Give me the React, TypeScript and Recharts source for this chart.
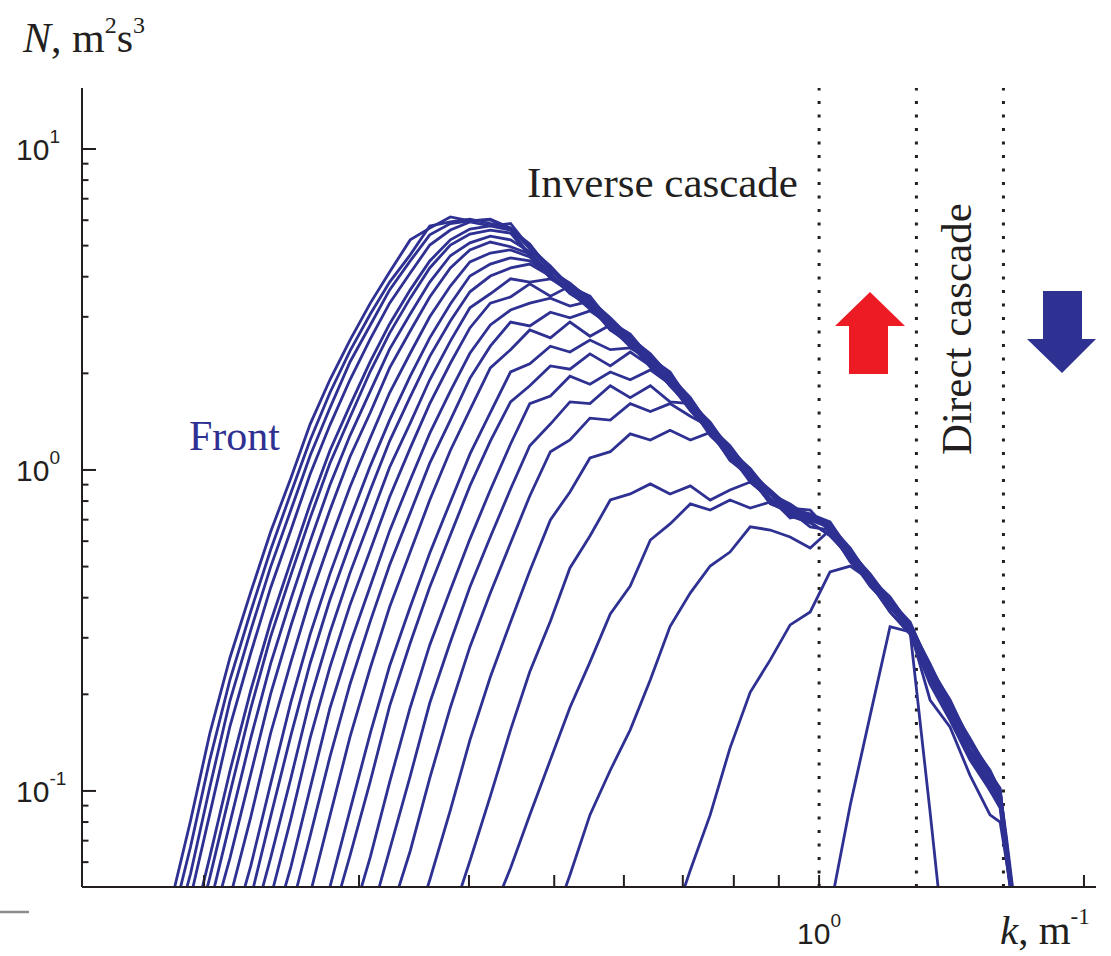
import { LineChart, Line, XAxis, YAxis, ReferenceLine } from 'recharts';

const INK = '#231f20';
const BLUE = '#2e3192';
const RED = '#ed1c24';
const SANS = 'Liberation Sans, Arial, sans-serif';
const SERIF = 'Liberation Serif, Times New Roman, serif';

// wavenumber grid k, m^-1
const K = [
  0.183, 0.193, 0.203, 0.214, 0.226, 0.238, 0.251, 0.264, 0.278, 0.293,
  0.309, 0.325, 0.343, 0.361, 0.381, 0.401, 0.423, 0.446, 0.469, 0.495,
  0.521, 0.549, 0.579, 0.61, 0.643, 0.677, 0.714, 0.752, 0.792, 0.835,
  0.88, 0.927, 0.977, 1.029, 1.085, 1.143, 1.204, 1.269, 1.337, 1.409,
  1.484, 1.564, 1.606, 1.632, 1.666,
];

// wave action spectra N(k), one per time snapshot
const S01 = [0.0438, 0.0806, 0.151, 0.26, 0.417, 0.641, 0.944, 1.39, 1.91, 2.54, 3.31, 4.14, 5.21, 5.67, 6.14, 5.97, 6.04, 5.67, 4.99, 4.26, 3.77, 3.43, 2.93, 2.61, 2.26, 1.99, 1.65, 1.39, 1.17, 1.0, 0.854, 0.772, 0.719, 0.679, 0.563, 0.468, 0.396, 0.332, 0.245, 0.189, 0.144, 0.115, 0.1005, 0.0704, 0.0442];
const S02 = [0.0371, 0.0669, 0.125, 0.222, 0.363, 0.563, 0.848, 1.24, 1.74, 2.35, 3.06, 3.85, 4.68, 5.76, 5.93, 6.04, 5.86, 5.67, 4.89, 4.2, 3.69, 3.36, 2.89, 2.56, 2.23, 1.95, 1.63, 1.37, 1.15, 0.986, 0.842, 0.756, 0.704, 0.665, 0.551, 0.461, 0.388, 0.327, 0.24, 0.185, 0.14, 0.111, 0.0977, 0.0674, 0.0426];
const S03 = [0.032, 0.0551, 0.1027, 0.191, 0.317, 0.498, 0.75, 1.11, 1.56, 2.17, 2.83, 3.64, 4.48, 5.4, 5.86, 5.97, 6.01, 5.63, 5.06, 4.17, 3.82, 3.39, 2.98, 2.58, 2.3, 1.96, 1.68, 1.36, 1.19, 0.979, 0.866, 0.761, 0.729, 0.689, 0.555, 0.4745, 0.391, 0.336, 0.242, 0.192, 0.142, 0.116, 0.0991, 0.0724, 0.0457];
const S04 = [0.0464, 0.0848, 0.159, 0.269, 0.429, 0.65, 0.972, 1.38, 1.91, 2.56, 3.31, 4.11, 5.02, 5.59, 5.93, 5.76, 5.86, 4.92, 4.32, 3.72, 3.48, 2.89, 2.65, 2.23, 2.02, 1.62, 1.41, 1.15, 1.01, 0.842, 0.784, 0.709, 0.67, 0.571, 0.461, 0.402, 0.327, 0.249, 0.1837, 0.146, 0.113, 0.102, 0.0685, 0.0442];
const S05 = [0.0353, 0.0623, 0.1154, 0.206, 0.336, 0.52, 0.784, 1.15, 1.59, 2.18, 2.85, 3.64, 4.48, 5.21, 5.63, 5.76, 5.59, 4.68, 3.96, 3.59, 3.17, 2.79, 2.42, 2.17, 1.83, 1.57, 1.295, 1.105, 0.931, 0.806, 0.719, 0.684, 0.627, 0.531, 0.435, 0.374, 0.315, 0.225, 0.176, 0.132, 0.105, 0.0938, 0.0646, 0.0421];
const S06 = [0.0316, 0.0537, 0.0984, 0.181, 0.302, 0.471, 0.709, 1.05, 1.46, 2.03, 2.67, 3.43, 4.26, 5.02, 5.43, 5.59, 5.47, 4.65, 4.08, 3.54, 3.24, 2.73, 2.47, 2.09, 1.85, 1.53, 1.31, 1.08, 0.944, 0.789, 0.745, 0.665, 0.65, 0.52, 0.442, 0.361, 0.308, 0.23, 0.171, 0.128, 0.1035, 0.0925, 0.0629, 0.0411];
const S07 = [0.0438, 0.0795, 0.1463, 0.249, 0.396, 0.6, 0.898, 1.28, 1.76, 2.38, 3.06, 3.85, 4.65, 5.1, 5.35, 5.21, 4.78, 4.08, 3.59, 3.24, 2.81, 2.58, 2.14, 1.95, 1.56, 1.37, 1.105, 0.986, 0.806, 0.761, 0.75, 0.641, 0.551, 0.442, 0.388, 0.322, 0.232, 0.186, 0.134, 0.112, 0.0956, 0.0674, 0.0432];
const S08 = [0.0366, 0.0618, 0.113, 0.2003, 0.327, 0.502, 0.75, 1.1, 1.51, 2.08, 2.71, 3.46, 4.26, 4.85, 5.13, 4.96, 4.71, 4.05, 3.56, 3.27, 2.89, 2.47, 2.23, 1.88, 1.62, 1.31, 1.15, 0.944, 0.842, 0.729, 0.699, 0.66, 0.524, 0.461, 0.371, 0.327, 0.242, 0.176, 0.14, 0.1065, 0.0991, 0.0646, 0.0426];
const S09 = [0.0464, 0.083, 0.151, 0.252, 0.399, 0.6, 0.885, 1.26, 1.74, 2.31, 3.0, 3.74, 4.45, 4.74, 4.85, 4.61, 4.02, 3.59, 3.29, 2.73, 2.54, 2.11, 1.91, 1.54, 1.33, 1.07, 0.958, 0.784, 0.74, 0.689, 0.623, 0.539, 0.435, 0.377, 0.317, 0.225, 0.181, 0.132, 0.1097, 0.0925, 0.0664, 0.0421];
const S10 = [0.0344, 0.0584, 0.105, 0.189, 0.308, 0.4745, 0.704, 1.03, 1.43, 1.96, 2.58, 3.29, 4.02, 4.38, 4.58, 4.48, 4.08, 3.61, 3.31, 2.85, 2.43, 2.17, 1.83, 1.58, 1.28, 1.12, 0.917, 0.818, 0.709, 0.729, 0.65, 0.517, 0.448, 0.361, 0.308, 0.215, 0.166, 0.125, 0.1005, 0.0885, 0.0618, 0.0411];
const S11 = [0.0464, 0.083, 0.149, 0.25, 0.394, 0.588, 0.866, 1.23, 1.69, 2.26, 2.91, 3.59, 4.02, 4.26, 4.38, 4.02, 3.64, 3.33, 2.87];
const S12 = [0.0364, 0.0618, 0.1097, 0.193, 0.311, 0.478, 0.704, 1.02, 1.4, 1.91, 2.52, 3.2, 3.54, 3.94, 3.85, 3.94, 3.66, 3.29, 2.87, 2.54];
const S13 = [0.0464, 0.0818, 0.1463, 0.243, 0.38, 0.563, 0.824, 1.17, 1.61, 2.15, 2.77, 3.31, 3.46, 3.8, 3.48, 3.74, 3.36, 2.89, 2.56, 2.23];
const S14 = [0.0348, 0.058, 0.102, 0.181, 0.287, 0.435, 0.646, 0.931, 1.3, 1.76, 2.31, 2.83, 3.15, 3.31, 3.43, 3.24, 3.36, 2.87, 2.54, 2.23];
const S15 = [0.0423, 0.0724, 0.1276, 0.215, 0.338, 0.506, 0.735, 1.05, 1.43, 1.93, 2.43, 2.89, 2.81, 3.1, 2.98, 3.13, 2.83, 2.52, 2.22, 1.93];
const S16 = [0.0478, 0.0836, 0.1473, 0.242, 0.374, 0.555, 0.806, 1.15, 1.54, 2.08, 2.37, 2.73, 2.58, 2.89, 2.61, 2.83, 2.54, 2.2, 1.93];
const S17 = [0.0316, 0.0502, 0.0872, 0.1515, 0.245, 0.374, 0.551, 0.795, 1.12, 1.51, 2.02, 2.14, 2.43, 2.33, 2.54, 2.37, 2.4, 2.2, 1.92, 1.62];
const S18 = [0.0379, 0.0629, 0.1073, 0.1837, 0.289, 0.432, 0.627, 0.892, 1.23, 1.63, 1.83, 2.11, 2.06, 2.3, 2.11, 2.33, 2.11, 1.93, 1.63, 1.37];
const S19 = [0.0379, 0.0623, 0.1065, 0.182, 0.285, 0.423, 0.609, 0.866, 1.205, 1.61, 1.7, 1.96, 1.85, 2.02, 1.91, 2.05, 1.85, 1.61, 1.35];
const S20 = [0.04, 0.0655, 0.1113, 0.1879, 0.291, 0.432, 0.618, 0.872, 1.19, 1.39, 1.63, 1.61, 1.83, 1.68, 1.83, 1.63, 1.61, 1.35, 1.15];
const S21 = [0.0406, 0.065, 0.1097, 0.182, 0.281, 0.414, 0.592, 0.83, 1.14, 1.24, 1.45, 1.43, 1.61, 1.52, 1.61, 1.47, 1.36, 1.14, 0.972];
const S22 = [0.0339, 0.0528, 0.0872, 0.144, 0.2265, 0.336, 0.4846, 0.699, 0.854, 1.09, 1.14, 1.295, 1.24, 1.33, 1.24, 1.31, 1.14, 0.972, 0.836];
const S23 = [0.0394, 0.0605, 0.0963, 0.155, 0.235, 0.338, 0.495, 0.623, 0.806, 0.842, 0.905, 0.842, 0.892, 0.806, 0.866, 0.917, 0.812, 0.745];
const S24 = [0.0402, 0.0575, 0.0842, 0.125, 0.182, 0.252, 0.356, 0.435, 0.605, 0.679, 0.784, 0.75, 0.806, 0.761, 0.795, 0.75, 0.709];
const S25 = [0.0369, 0.0547, 0.0842, 0.116, 0.155, 0.222, 0.325, 0.414, 0.502, 0.555, 0.665, 0.65, 0.618, 0.571, 0.65, 0.555, 0.461, 0.385, 0.322, 0.222, 0.172, 0.129, 0.1005, 0.0904, 0.0655, 0.0426];
const S26 = [0.0369, 0.0567, 0.0842, 0.136, 0.203, 0.256, 0.329, 0.361, 0.481, 0.502, 0.454, 0.382, 0.317, 0.192, 0.158, 0.112, 0.0842, 0.08, 0.061, 0.0411];
const S27 = [0.0426, 0.0904, 0.172, 0.325, 0.313, 0.086, 0.0223];

const SPECTRA = [
  S01, S02, S03, S04, S05, S06, S07, S08, S09, S10, S11, S12, S13, S14,
  S15, S16, S17, S18, S19, S20, S21, S22, S23, S24, S25, S26, S27,
];
// index into K where each spectrum begins
const START = [0, 0, 0, 1, 1, 1, 2, 2, 3, 3, 4, 4, 5, 5, 6, 7, 7, 8, 9, 10, 11, 12, 14, 16, 19, 25, 33];

const X_TICKS = [0.2, 0.3, 0.4, 0.5, 0.6, 0.7, 0.8, 0.9, 1, 2];
const Y_TICKS = [
  0.06, 0.07, 0.08, 0.09, 0.1, 0.2, 0.3, 0.4, 0.5, 0.6, 0.7, 0.8, 0.9,
  1, 2, 3, 4, 5, 6, 7, 8, 9, 10,
];
const Y_EXP: Record<string, string> = { '0.1': '-1', '1': '0', '10': '1' };
const X_EXP: Record<string, string> = { '1': '0' };
// boundaries of the cascade ranges
const BOUNDS = [1, 1.29, 1.62];

const rows = K.map((k, i) => {
  const row: Record<string, number | null> = { k };
  SPECTRA.forEach((s, n) => {
    const v = s[i - START[n]];
    row['s' + n] = v === undefined ? null : v;
  });
  return row;
});

function XTick(props: any) {
  const { x, y, payload } = props;
  const exp = X_EXP[String(payload.value)];
  return (
    <g>
      <line x1={x} y1={y} x2={x} y2={y - 12} stroke={INK} strokeWidth={2} />
      {exp !== undefined && (
        <text x={x} y={y + 57} textAnchor="middle" fontFamily={SANS} fontSize={30} fill={INK}>
          10
          <tspan dy={-17} fontSize={19}>{exp}</tspan>
        </text>
      )}
    </g>
  );
}

function YTick(props: any) {
  const { x, y, payload } = props;
  const exp = Y_EXP[String(payload.value)];
  const major = exp !== undefined;
  return (
    <g>
      <line x1={x} y1={y} x2={x + (major ? 14 : 6.5)} y2={y} stroke={INK} strokeWidth={2} />
      {major && (
        <text x={x - 66} y={y + 11} fontFamily={SANS} fontSize={30} fill={INK}>
          10
          <tspan dy={-17} fontSize={19}>{exp}</tspan>
        </text>
      )}
    </g>
  );
}

export default function App() {
  return (
    <div style={{ position: 'absolute', left: 0, top: 0, width: 1111, height: 956, background: '#fff' }}>
      <LineChart width={1111} height={956} data={rows} margin={{ top: 88, right: 15, bottom: 0, left: 0 }}>
        <XAxis
          type="number"
          dataKey="k"
          scale="log"
          domain={[0.1453, 2.064]}
          allowDataOverflow
          ticks={X_TICKS}
          interval={0}
          tick={XTick}
          tickLine={false}
          tickSize={0}
          tickMargin={0}
          height={69}
          axisLine={{ stroke: INK, strokeWidth: 2 }}
        />
        <YAxis
          type="number"
          scale="log"
          domain={[0.0502, 15.49]}
          allowDataOverflow
          ticks={Y_TICKS}
          interval={0}
          tick={YTick}
          tickLine={false}
          tickSize={0}
          tickMargin={0}
          width={82}
          axisLine={{ stroke: INK, strokeWidth: 2 }}
        />
        {BOUNDS.map((b) => (
          <ReferenceLine key={b} x={b} stroke={INK} strokeWidth={3} strokeDasharray="3 10.5" />
        ))}
        {SPECTRA.map((_, n) => (
          <Line
            key={n}
            dataKey={'s' + n}
            stroke={BLUE}
            strokeWidth={2.8}
            dot={false}
            activeDot={false}
            isAnimationActive={false}
            strokeLinejoin="miter"
          />
        ))}
      </LineChart>
      <svg
        width={1111}
        height={956}
        style={{ position: 'absolute', left: 0, top: 0, pointerEvents: 'none' }}
      >
        <text x={23} y={52} fontFamily={SERIF} fontSize={42} fill={INK}>
          <tspan fontStyle="italic">N</tspan>
          <tspan>, m</tspan>
          <tspan dy={-19} fontSize={24}>2</tspan>
          <tspan dy={19}>s</tspan>
          <tspan dy={-19} fontSize={24}>3</tspan>
        </text>
        <text x={1000} y={944} fontFamily={SERIF} fontSize={41} fill={INK}>
          <tspan fontStyle="italic">k</tspan>
          <tspan>, m</tspan>
          <tspan dy={-20} fontSize={23}>-1</tspan>
        </text>
        <text x={527} y={197} fontFamily={SERIF} fontSize={43} fill={INK}>
          Inverse cascade
        </text>
        <text x={971} y={455} transform="rotate(-90 971 455)" fontFamily={SERIF} fontSize={43} fill={INK}>
          Direct cascade
        </text>
        <text x={189} y={450} fontFamily={SERIF} fontSize={42} fill={BLUE}>
          Front
        </text>
        <polygon points="870,292 905,326 888,326 888,374 849,374 849,326 835,326" fill={RED} />
        <polygon points="1043,291 1082,291 1082,339 1096,339 1062,373 1027,339 1043,339" fill={BLUE} />
        <line x1={0} y1={912} x2={29} y2={912} stroke="#8c8c8c" strokeWidth={2.5} />
      </svg>
    </div>
  );
}
